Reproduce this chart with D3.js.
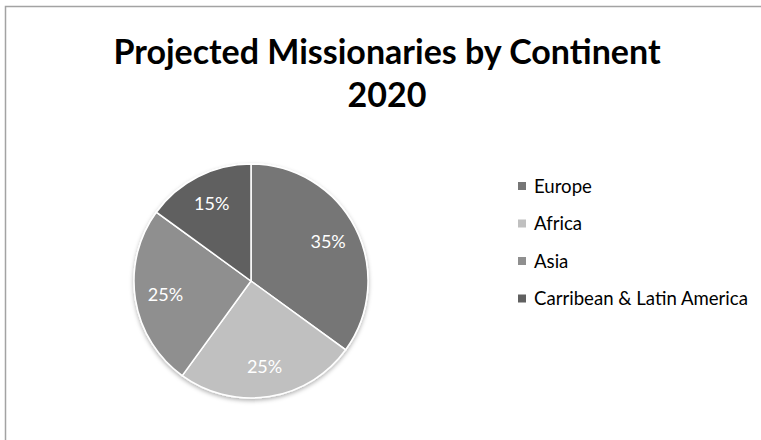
<!DOCTYPE html>
<html>
<head>
    <meta charset="utf-8">
    <style>
        html, body { margin: 0; padding: 0; background: #fff; }
        svg { display: block; }
        text { font-family: Lato, "Open Sans", sans-serif; }
    </style>
    <script src="https://cdn.jsdelivr.net/npm/d3@7/dist/d3.min.js"></script>
    <title>Projected Missionaries by Continent 2020</title>
</head>
<body>
    <div id="chart"></div>
    <script>
        // Data
        const categories = ["Europe", "Africa", "Asia", "Carribean & Latin America"];
        const shares = [35, 25, 25, 15];
        const sliceColors = ["#767676", "#c0c0c0", "#8f8f8f", "#606060"];
        const titleLines = ["Projected Missionaries by Continent", "2020"];

        const width = 761, height = 440;
        const cx = 251, cy = 281, radius = 117;

        const svg = d3.select("#chart").append("svg")
            .attr("width", width)
            .attr("height", height);

        // soft shadow under the pie
        const defs = svg.append("defs");
        defs.append("filter")
            .attr("id", "shadow")
            .attr("x", "-20%").attr("y", "-20%")
            .attr("width", "140%").attr("height", "140%")
            .append("feDropShadow")
            .attr("dx", 0).attr("dy", 2)
            .attr("stdDeviation", 2)
            .attr("flood-color", "#000")
            .attr("flood-opacity", 0.3);

        // chart frame (right/bottom edges fall outside the view)
        svg.append("rect")
            .attr("x", 5.5).attr("y", 6.5)
            .attr("width", 900).attr("height", 600)
            .attr("fill", "none")
            .attr("stroke", "#a3a3a3")
            .attr("stroke-width", 1.5);

        // Title
        svg.append("text")
            .attr("text-anchor", "middle")
            .attr("font-weight", "bold")
            .attr("font-size", 34)
            .attr("fill", "#000")
            .selectAll("tspan")
            .data(titleLines)
            .join("tspan")
            .attr("x", 387)
            .attr("y", (d, i) => 64 + i * 43)
            .text(d => d);

        // Pie
        const color = d3.scaleOrdinal().domain(categories).range(sliceColors);
        const pie = d3.pie().sort(null).value(d => d.value);
        const arcs = pie(categories.map((c, i) => ({ name: c, value: shares[i] })));
        const arc = d3.arc().innerRadius(0).outerRadius(radius);
        const labelArc = d3.arc().innerRadius(radius * 0.74).outerRadius(radius * 0.74);

        const g = svg.append("g").attr("transform", `translate(${cx},${cy})`);

        g.append("g")
            .attr("filter", "url(#shadow)")
            .selectAll("path")
            .data(arcs)
            .join("path")
            .attr("d", arc)
            .attr("fill", d => color(d.data.name))
            .attr("stroke", "#fff")
            .attr("stroke-width", 1.5);

        g.selectAll("text.label")
            .data(arcs)
            .join("text")
            .attr("class", "label")
            .attr("transform", d => `translate(${labelArc.centroid(d)})`)
            .attr("text-anchor", "middle")
            .attr("dy", "0.35em")
            .attr("font-size", 18)
            .attr("fill", "#fff")
            .text(d => d.data.value + "%");

        // Legend
        const legend = svg.append("g").attr("transform", "translate(518,186)");
        const item = legend.selectAll("g")
            .data(categories)
            .join("g")
            .attr("transform", (d, i) => `translate(0,${i * 37.5})`);

        item.append("rect")
            .attr("x", 0).attr("y", -4)
            .attr("width", 8).attr("height", 8)
            .attr("fill", d => color(d));

        item.append("text")
            .attr("x", 16)
            .attr("dy", "0.35em")
            .attr("font-size", 18.6)
            .attr("fill", "#000")
            .text(d => d);
    </script>
</body>
</html>
